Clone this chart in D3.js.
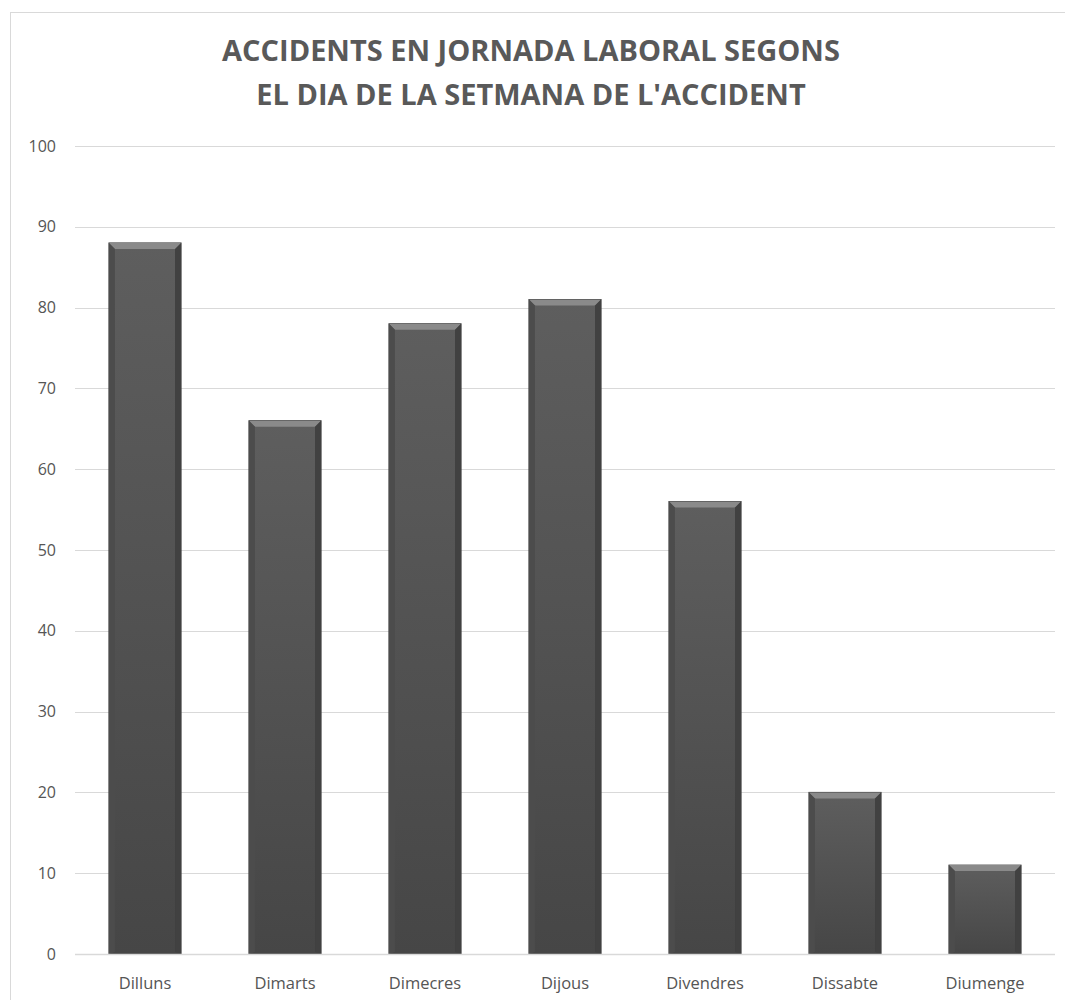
<!DOCTYPE html>
<html>
<head>
<meta charset="utf-8">
<script src="https://cdn.jsdelivr.net/npm/d3@7"></script>
<style>
  body { margin: 0; background: #fff; }
  svg { display: block; }
</style>
</head>
<body>
<div id="chart"></div>
<script>
const days = ["Dilluns", "Dimarts", "Dimecres", "Dijous", "Divendres", "Dissabte", "Diumenge"];
const accidents = [88, 66, 78, 81, 56, 20, 11];
const yTicks = [0, 10, 20, 30, 40, 50, 60, 70, 80, 90, 100];
const titleLines = ["ACCIDENTS EN JORNADA LABORAL SEGONS", "EL DIA DE LA SETMANA DE L'ACCIDENT"];

const W = 1065, H = 1000;
const margin = {top: 146, right: 10, bottom: 46, left: 75};

let svg = d3.select("#chart").append("svg")
    .attr("width", W)
    .attr("height", H);

// chart frame
svg.append("rect")
    .attr("x", 10.5).attr("y", 12.5)
    .attr("width", W + 20).attr("height", H + 20)
    .attr("fill", "none")
    .attr("stroke", "#d9d9d9");

let defs = svg.append("defs");
let grad = defs.append("linearGradient")
    .attr("id", "barGrad")
    .attr("x1", 0).attr("y1", 0).attr("x2", 0).attr("y2", 1);
grad.append("stop").attr("offset", "0%").attr("stop-color", "#5e5e5e");
grad.append("stop").attr("offset", "100%").attr("stop-color", "#464646");

// title
svg.append("text")
    .attr("text-anchor", "middle")
    .attr("font-family", "'Open Sans', sans-serif")
    .attr("font-weight", "bold")
    .attr("font-size", "29px")
    .attr("fill", "#595959")
    .selectAll("tspan")
    .data(titleLines)
    .enter().append("tspan")
    .attr("x", 531)
    .attr("y", function(d, i) { return 61 + i * 44; })
    .text(function(d) { return d; });

let x = d3.scaleBand()
    .domain(days)
    .range([margin.left, margin.left + 980])
    .paddingInner(0.485)
    .paddingOuter(0.2425);

let y = d3.scaleLinear()
    .domain([0, 100])
    .range([954, 146]);

// gridlines
svg.append("g")
    .selectAll("line")
    .data(yTicks)
    .enter().append("line")
    .attr("x1", margin.left)
    .attr("x2", margin.left + 980)
    .attr("y1", function(d) { return Math.round(y(d)) + 0.5; })
    .attr("y2", function(d) { return Math.round(y(d)) + 0.5; })
    .attr("stroke", "#d9d9d9")
    .attr("stroke-width", 1);

// y labels
svg.append("g")
    .attr("font-family", "'Open Sans', sans-serif")
    .attr("font-size", "16px")
    .attr("fill", "#555")
    .attr("text-anchor", "end")
    .selectAll("text")
    .data(yTicks)
    .enter().append("text")
    .attr("x", 56)
    .attr("y", function(d) { return y(d); })
    .attr("dy", "0.35em")
    .text(function(d) { return d; });

// bars
let bars = svg.append("g")
    .selectAll("g")
    .data(days.map(function(d, i) { return {day: d, value: accidents[i]}; }))
    .enter().append("g");

let bw = x.bandwidth();
let bev = 6;

bars.append("rect")
    .attr("x", function(d) { return x(d.day); })
    .attr("y", function(d) { return y(d.value); })
    .attr("width", bw)
    .attr("height", function(d) { return y(0) - y(d.value); })
    .attr("fill", "url(#barGrad)")
    .attr("stroke", "#3a3a3a")
    .attr("stroke-width", 1);

// top bevel
bars.append("path")
    .attr("d", function(d) {
        let x0 = x(d.day), x1 = x0 + bw, y0 = y(d.value);
        return "M" + x0 + "," + y0 + "L" + x1 + "," + y0 +
            "L" + (x1 - bev) + "," + (y0 + bev) + "L" + (x0 + bev) + "," + (y0 + bev) + "Z";
    })
    .attr("fill", "#8a8a8a");

// side bevels
bars.append("path")
    .attr("d", function(d) {
        let x0 = x(d.day), y0 = y(d.value), yb = y(0);
        return "M" + x0 + "," + y0 + "L" + (x0 + bev) + "," + (y0 + bev) +
            "L" + (x0 + bev) + "," + (yb - 2) + "L" + x0 + "," + yb + "Z";
    })
    .attr("fill", "#4c4c4c");
bars.append("path")
    .attr("d", function(d) {
        let x1 = x(d.day) + bw, y0 = y(d.value), yb = y(0);
        return "M" + x1 + "," + y0 + "L" + (x1 - bev) + "," + (y0 + bev) +
            "L" + (x1 - bev) + "," + (yb - 2) + "L" + x1 + "," + yb + "Z";
    })
    .attr("fill", "#414141");

// baseline
svg.append("line")
    .attr("x1", margin.left).attr("x2", margin.left + 980)
    .attr("y1", 954.5).attr("y2", 954.5)
    .attr("stroke", "#d9d9d9")
    .attr("stroke-width", 1.5);

// x labels
svg.append("g")
    .attr("font-family", "'Open Sans', sans-serif")
    .attr("font-size", "16.5px")
    .attr("fill", "#555")
    .attr("text-anchor", "middle")
    .selectAll("text")
    .data(days)
    .enter().append("text")
    .attr("x", function(d) { return x(d) + bw / 2; })
    .attr("y", 989)
    .text(function(d) { return d; });
</script>
</body>
</html>
